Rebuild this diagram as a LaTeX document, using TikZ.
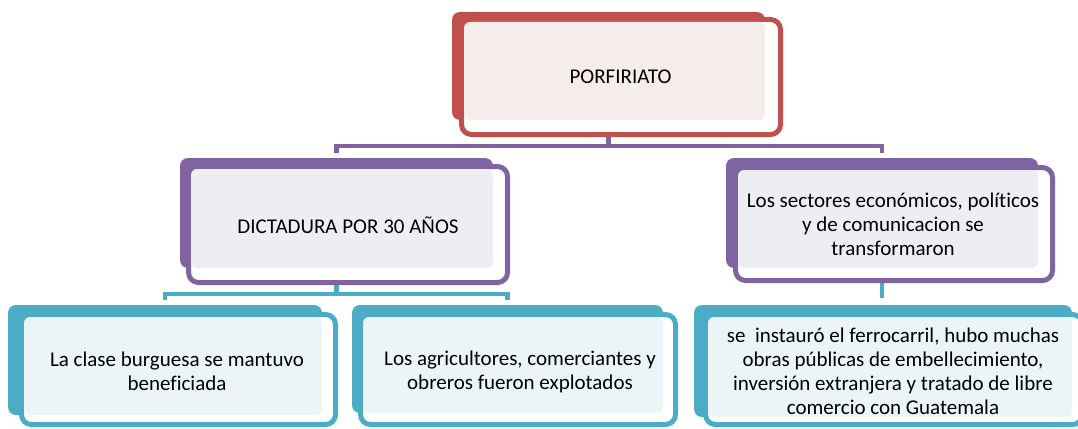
\documentclass[tikz,border=0pt]{standalone}
\usepackage{fontspec}
\setmainfont{Carlito}[Ligatures=CommonOff]
\usetikzlibrary{calc,backgrounds}
\definecolor{cRed}{HTML}{C0504D}
\definecolor{lRed}{HTML}{F5ECEC}
\definecolor{cPur}{HTML}{8064A2}
\definecolor{lPur}{HTML}{EFEDF4}
\definecolor{cTeal}{HTML}{4BACC6}
\definecolor{lTeal}{HTML}{EBF5F8}
\begin{document}
\begin{tikzpicture}[x=1pt,y=-1pt,
  backbox/.style={rectangle, rounded corners=8pt, fill=#1, inner sep=0pt, outer sep=0pt},
  frontbox/.style={rectangle, rounded corners=10pt, draw=#1, line width=5pt, fill=white, inner sep=0pt, outer sep=0pt},
  txt/.style={font=\fontsize{21}{24}\selectfont, align=center, text=black, inner sep=0pt},
  conn/.style={draw=#1, line width=4.5pt},
  lightfill/.style={fill=#1, rounded corners=6pt}]
\useasboundingbox (0,0) rectangle (1078,428);
\clip (0,0) rectangle (1078,428);

% PORFIRIATO
\node[backbox=cRed, minimum width=313pt, minimum height=108pt] (Pb) at (608.5,66) {};
\node[frontbox=cRed, minimum width=319pt, minimum height=115pt] (P) at (621,77) {};
\fill[lightfill=lRed] ($(P.north west)+(2.5,2.5)$) rectangle (Pb.south east);
\node[txt] (Pt) at (620.5,77) {PORFIRIATO};

% DICTADURA
\node[backbox=cPur, minimum width=313pt, minimum height=110pt] (Db) at (336.5,213) {};
\node[frontbox=cPur, minimum width=319pt, minimum height=116pt] (D) at (348,224.5) {};
\fill[lightfill=lPur] ($(D.north west)+(2.5,2.5)$) rectangle (Db.south east);
\node[txt] (Dt) at (348,225) {DICTADURA POR 30 AÑOS};

% Sectores
\node[backbox=cPur, minimum width=312pt, minimum height=110pt] (Sb) at (882,213) {};
\node[frontbox=cPur, minimum width=317pt, minimum height=113pt] (S) at (894,224) {};
\fill[lightfill=lPur] ($(S.north west)+(2.5,2.5)$) rectangle (Sb.south east);
\node[txt] (St) at (893,224) {Los sectores económicos, políticos\\y de comunicacion se\\transformaron};

% Burguesa
\node[backbox=cTeal, minimum width=314pt, minimum height=110pt] (Bb) at (165,360) {};
\node[frontbox=cTeal, minimum width=314pt, minimum height=110pt] (B) at (178.5,369.5) {};
\fill[lightfill=lTeal] ($(B.north west)+(2.5,2.5)$) rectangle (Bb.south east);
\node[txt] (Bt) at (177,371) {La clase burguesa se mantuvo\\beneficiada};

% Agricultores
\node[backbox=cTeal, minimum width=311pt, minimum height=108pt] (Ab) at (507.5,359) {};
\node[frontbox=cTeal, minimum width=315pt, minimum height=110pt] (A) at (518,369.5) {};
\fill[lightfill=lTeal] ($(A.north west)+(2.5,2.5)$) rectangle (Ab.south east);
\node[txt] (At) at (520,372) {Los agricultores, comerciantes y\\obreros fueron explotados};

% Ferrocarril
\node[backbox=cTeal, minimum width=378pt, minimum height=112pt] (Fb) at (883,361) {};
\node[frontbox=cTeal, minimum width=377pt, minimum height=110pt] (F) at (894,369.5) {};
\fill[lightfill=lTeal] ($(F.north west)+(2.5,2.5)$) rectangle (Fb.south east);
\node[txt] (Ft) at (893,371) {se~~instauró el ferrocarril, hubo muchas\\obras públicas de embellecimiento,\\inversión extranjera y tratado de libre\\comercio con Guatemala};

% connectors
\begin{scope}[on background layer]
  \coordinate (hubP) at (608.5,146);
  \draw[conn=cPur] (Pb.south) -- (hubP);
  \draw[conn=cPur, shorten <=5pt, shorten >=5pt] (Db.north) |- (hubP) -| (Sb.north);
  \coordinate (hubD) at (336.5,294);
  \draw[conn=cTeal] (Db.south) -- (hubD);
  \draw[conn=cTeal, shorten <=5pt, shorten >=5pt] (Bb.north) |- (hubD) -| (Ab.north);
  \draw[conn=cTeal, shorten >=7pt] (Sb.south) -- (Sb.south |- Fb.north);
\end{scope}
\end{tikzpicture}
\end{document}
